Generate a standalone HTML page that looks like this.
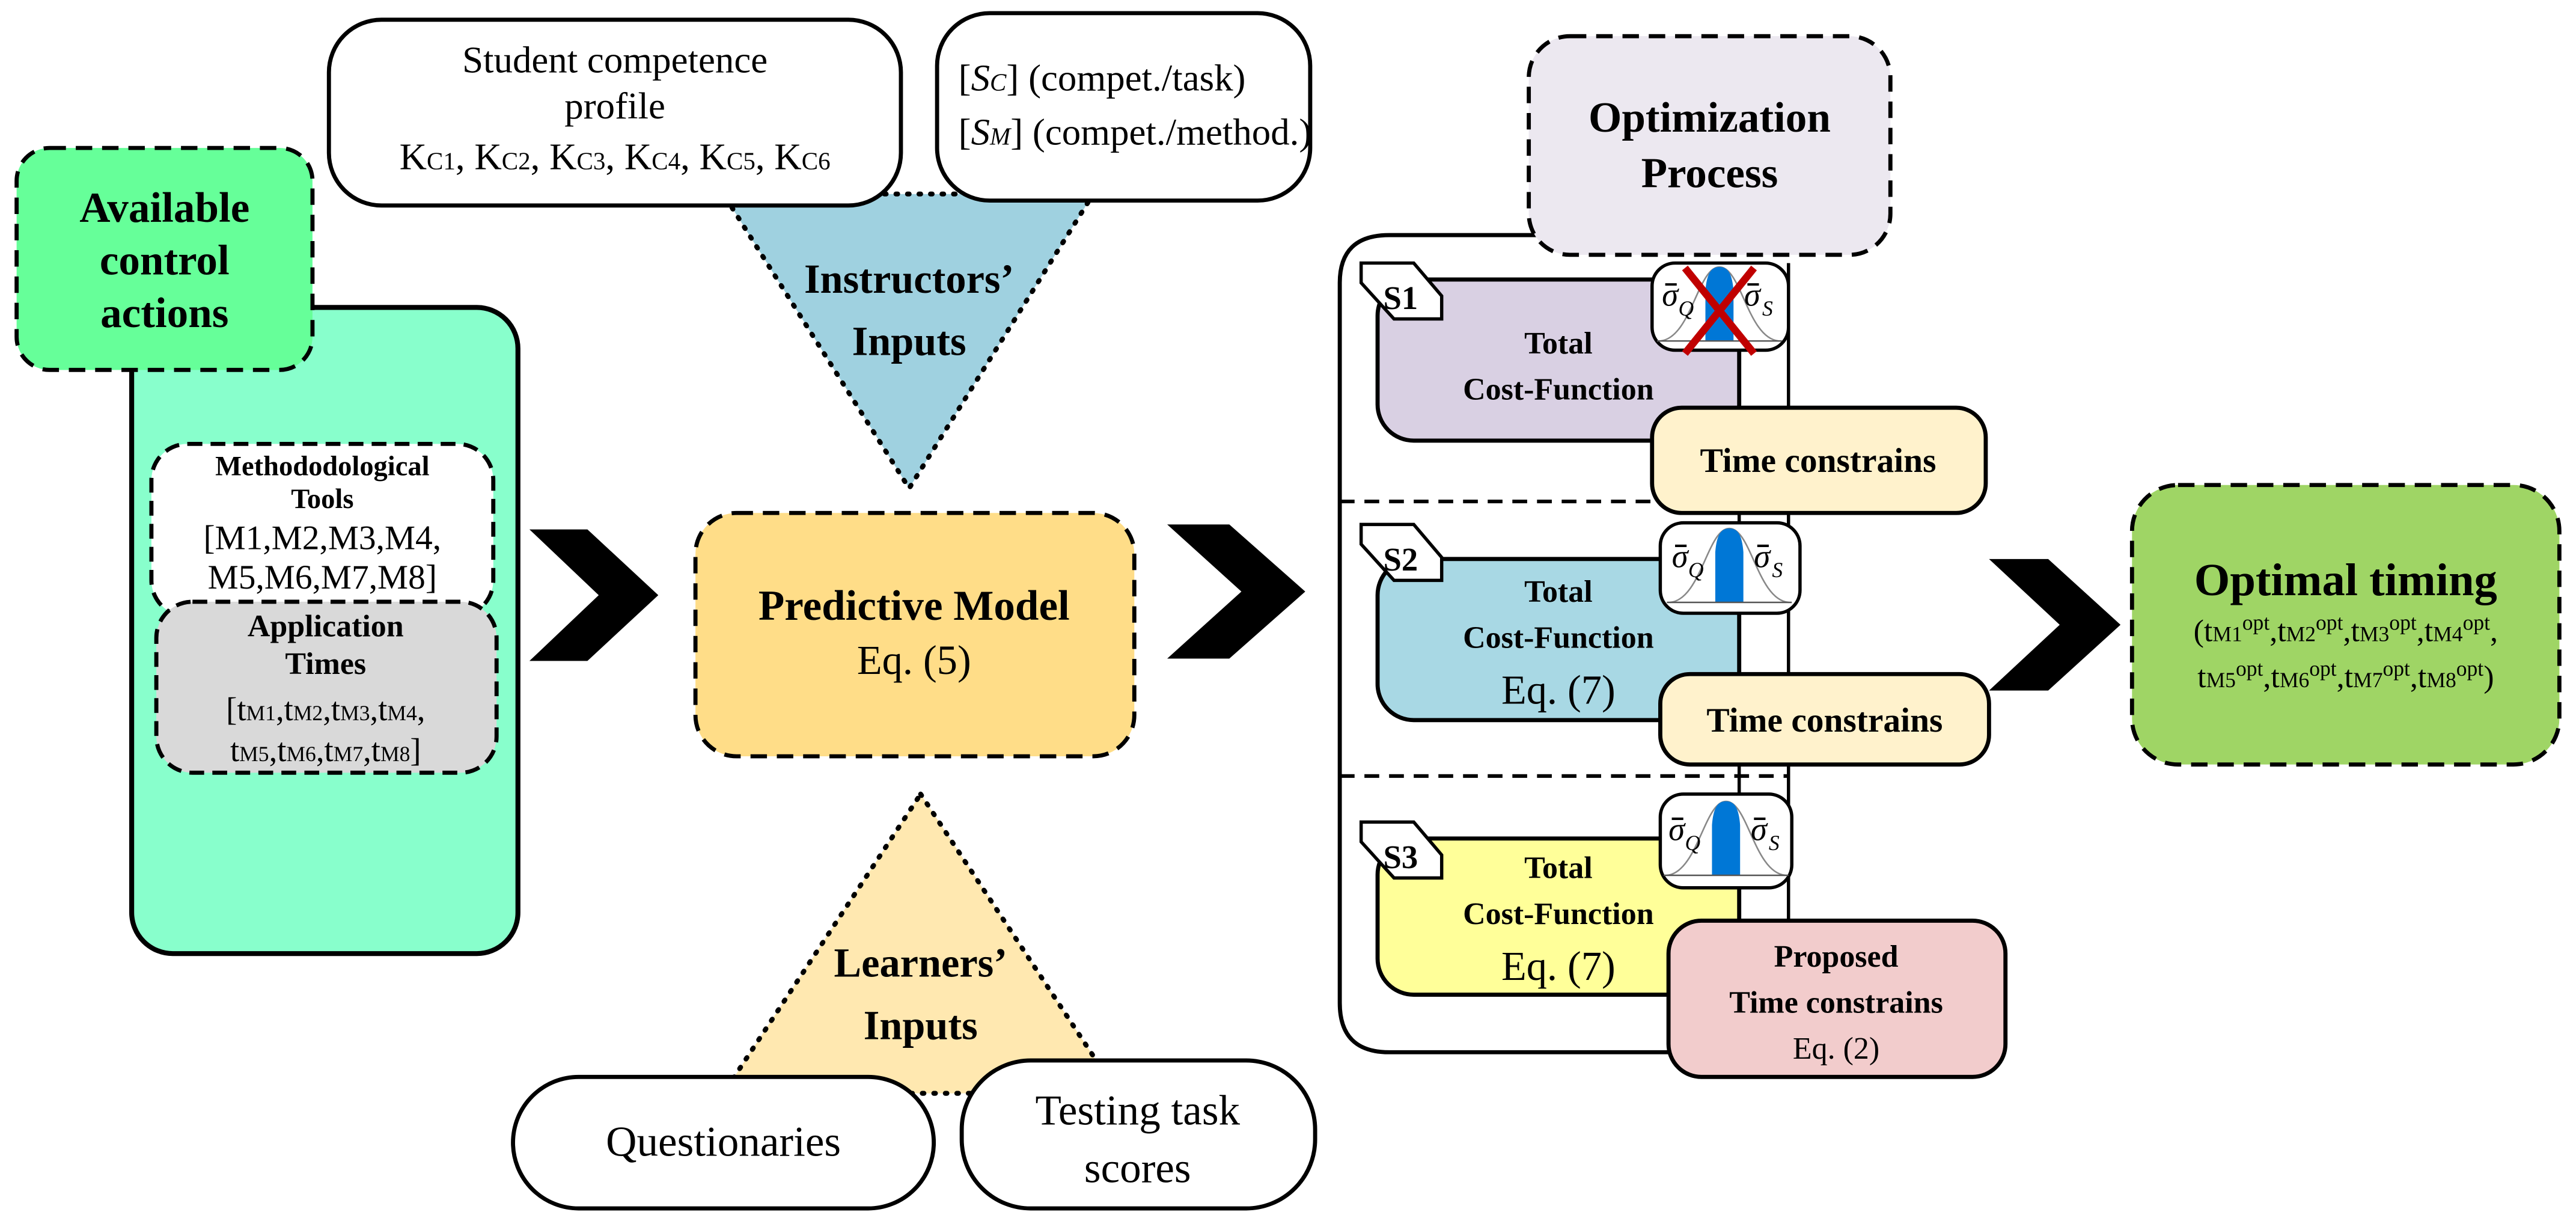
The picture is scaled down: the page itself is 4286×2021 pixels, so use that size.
<!DOCTYPE html>
<html><head><meta charset="utf-8"><style>
html,body{margin:0;padding:0;background:#fff}
svg{display:block}
text{font-family:"Liberation Serif",serif;fill:#000}
.b{font-weight:bold}
</style></head><body>
<svg width="4286" height="2021" viewBox="0 0 1567 739" xmlns="http://www.w3.org/2000/svg" font-family="Liberation Serif, serif">
<defs>
<g id="bell">
<path d="M-38,26 C-18,24 -14,-24 0,-24 C14,-24 18,24 38,26" fill="none" stroke="#888" stroke-width="1"/>
<path d="M-9,26 L-9,-8 C-8,-22 -4,-24 0,-24 C4,-24 8,-22 9,-8 L9,26 Z" fill="#0077d6"/>
<line x1="-40" y1="26" x2="40" y2="26" stroke="#555" stroke-width="1"/>
</g>
<g id="sig">
<line x1="-33" y1="-15" x2="-26" y2="-15" stroke="#000" stroke-width="1.5"/>
<text x="-35" y="-2" font-size="20" font-style="italic">σ</text>
<text x="-25" y="4" font-size="13" font-style="italic">Q</text>
<line x1="17" y1="-15" x2="24" y2="-15" stroke="#000" stroke-width="1.5"/>
<text x="15" y="-2" font-size="20" font-style="italic">σ</text>
<text x="26" y="4" font-size="13" font-style="italic">S</text>
</g>
<g id="chev"><path d="M0,0 L36,0 L80,40 L36,80 L0,80 L43,40 Z" fill="#000"/></g>
</defs>

<rect x="80" y="187" width="235" height="393" rx="25" fill="#88ffcc" stroke="#000" stroke-width="3"/>
<rect x="10" y="90" width="180" height="135" rx="20" fill="#66ff99" stroke="#000" stroke-width="2.5" stroke-dasharray="10,6"/>
<text class="b" x="100" y="135" font-size="26" text-anchor="middle">Available</text>
<text class="b" x="100" y="167" font-size="26" text-anchor="middle">control</text>
<text class="b" x="100" y="199" font-size="26" text-anchor="middle">actions</text>

<rect x="92" y="270" width="208" height="105" rx="22" fill="#fff" stroke="#000" stroke-width="2.5" stroke-dasharray="9,5"/>
<text class="b" x="196" y="289" font-size="17" text-anchor="middle">Methododological</text>
<text class="b" x="196" y="309" font-size="17" text-anchor="middle">Tools</text>
<text x="196" y="334" font-size="21" text-anchor="middle">[M1,M2,M3,M4,</text>
<text x="196" y="358" font-size="21" text-anchor="middle">M5,M6,M7,M8]</text>

<rect x="95" y="366" width="207" height="104" rx="22" fill="#d9d9d9" stroke="#000" stroke-width="2.5" stroke-dasharray="9,5"/>
<text class="b" x="198" y="387" font-size="19" text-anchor="middle">Application</text>
<text class="b" x="198" y="410" font-size="19" text-anchor="middle">Times</text>
<text x="198" y="438" font-size="20" text-anchor="middle">[t<tspan font-size="13">M1</tspan>,t<tspan font-size="13">M2</tspan>,t<tspan font-size="13">M3</tspan>,t<tspan font-size="13">M4</tspan>,</text>
<text x="198" y="463" font-size="20" text-anchor="middle">t<tspan font-size="13">M5</tspan>,t<tspan font-size="13">M6</tspan>,t<tspan font-size="13">M7</tspan>,t<tspan font-size="13">M8</tspan>]</text>

<use href="#chev" transform="translate(322,322) scale(0.98,1)"/>
<use href="#chev" transform="translate(710,319) scale(1.05,1.02)"/>
<use href="#chev" transform="translate(1210,340) scale(1,1)"/>

<path d="M440,118 L665,118 L553,297 Z" fill="#9fd1e0" stroke="#000" stroke-width="3" stroke-dasharray="1,6" stroke-linecap="round"/>
<text class="b" x="553" y="178" font-size="25" text-anchor="middle">Instructors’</text>
<text class="b" x="553" y="216" font-size="25" text-anchor="middle">Inputs</text>

<rect x="200" y="12" width="348" height="113" rx="32" fill="#fff" stroke="#000" stroke-width="2.5"/>
<text x="374" y="44" font-size="23" text-anchor="middle">Student competence</text>
<text x="374" y="72" font-size="23" text-anchor="middle">profile</text>
<text x="374" y="103" font-size="23" text-anchor="middle">K<tspan font-size="15">C1</tspan>, K<tspan font-size="15">C2</tspan>, K<tspan font-size="15">C3</tspan>, K<tspan font-size="15">C4</tspan>, K<tspan font-size="15">C5</tspan>, K<tspan font-size="15">C6</tspan></text>
<rect x="570" y="8" width="227" height="114" rx="32" fill="#fff" stroke="#000" stroke-width="2.5"/>
<text x="583" y="55" font-size="23">[<tspan font-style="italic">S<tspan font-size="15">C</tspan></tspan>] (compet./task)</text>
<text x="583" y="88" font-size="23">[<tspan font-style="italic">S<tspan font-size="15">M</tspan></tspan>] (compet./method.)</text>

<rect x="423" y="312" width="267" height="148" rx="25" fill="#ffdd88" stroke="#000" stroke-width="2.5" stroke-dasharray="10,6"/>
<text class="b" x="556" y="377" font-size="26" text-anchor="middle">Predictive Model</text>
<text x="556" y="410" font-size="25" text-anchor="middle">Eq. (5)</text>

<path d="M560,483 L680,665 L440,665 Z" fill="#ffe8b0" stroke="#000" stroke-width="3" stroke-dasharray="1,6" stroke-linecap="round"/>
<text class="b" x="560" y="594" font-size="25" text-anchor="middle">Learners’</text>
<text class="b" x="560" y="632" font-size="25" text-anchor="middle">Inputs</text>
<rect x="312" y="655" width="256" height="80" rx="40" fill="#fff" stroke="#000" stroke-width="2.5"/>
<text x="440" y="703" font-size="26" text-anchor="middle">Questionaries</text>
<rect x="585" y="645" width="215" height="90" rx="42" fill="#fff" stroke="#000" stroke-width="2.5"/>
<text x="692" y="684" font-size="26" text-anchor="middle">Testing task</text>
<text x="692" y="719" font-size="26" text-anchor="middle">scores</text>

<path d="M1015,640 L845,640 Q815,640 815,610 L815,172 Q815,143 845,143 L935,143" fill="none" stroke="#000" stroke-width="2.5"/>
<line x1="815" y1="305" x2="1088" y2="305" stroke="#000" stroke-width="2.2" stroke-dasharray="9,6"/>
<line x1="815" y1="472" x2="1088" y2="472" stroke="#000" stroke-width="2.2" stroke-dasharray="9,6"/>
<line x1="1058" y1="170" x2="1058" y2="610" stroke="#000" stroke-width="2"/>
<line x1="1088" y1="160" x2="1088" y2="610" stroke="#000" stroke-width="2"/>
<rect x="930" y="22" width="220" height="133" rx="25" fill="#ece8f0" stroke="#000" stroke-width="2.5" stroke-dasharray="10,6"/>
<text class="b" x="1040" y="80" font-size="26" text-anchor="middle">Optimization</text>
<text class="b" x="1040" y="114" font-size="26" text-anchor="middle">Process</text>

<rect x="838" y="170" width="220" height="98" rx="22" fill="#d9d0e3" stroke="#000" stroke-width="2.5"/>
<path d="M828,160 L860,160 L877,180 L877,194 L848,194 L828,172 Z" fill="#fff" stroke="#000" stroke-width="2"/>
<text class="b" x="852" y="188" font-size="20" text-anchor="middle">S1</text>
<text class="b" x="948" y="215" font-size="19" text-anchor="middle">Total</text>
<text class="b" x="948" y="243" font-size="19" text-anchor="middle">Cost-Function</text>
<rect x="1005" y="160" width="83" height="53" rx="14" fill="#fff" stroke="#000" stroke-width="2"/>
<use href="#bell" transform="translate(1046,184) scale(0.95,0.9)"/>
<use href="#sig" transform="translate(1046,188)"/>
<path d="M1025,163 L1067,215 M1067,163 L1025,215" stroke="#c00000" stroke-width="4.5"/>
<rect x="1005" y="248" width="203" height="64" rx="18" fill="#fff2cc" stroke="#000" stroke-width="2.5"/>
<text class="b" x="1106" y="287" font-size="21" text-anchor="middle">Time constrains</text>

<rect x="838" y="340" width="220" height="98" rx="22" fill="#a8d8e4" stroke="#000" stroke-width="2.5"/>
<path d="M828,319 L860,319 L877,339 L877,353 L848,353 L828,331 Z" fill="#fff" stroke="#000" stroke-width="2"/>
<text class="b" x="852" y="347" font-size="20" text-anchor="middle">S2</text>
<text class="b" x="948" y="366" font-size="19" text-anchor="middle">Total</text>
<text class="b" x="948" y="394" font-size="19" text-anchor="middle">Cost-Function</text>
<text x="948" y="428" font-size="25" text-anchor="middle">Eq. (7)</text>
<rect x="1010" y="318" width="85" height="55" rx="14" fill="#fff" stroke="#000" stroke-width="2"/>
<use href="#bell" transform="translate(1052,343) scale(0.95,0.9)"/>
<use href="#sig" transform="translate(1052,347)"/>
<rect x="1010" y="410" width="200" height="55" rx="18" fill="#fff2cc" stroke="#000" stroke-width="2.5"/>
<text class="b" x="1110" y="445" font-size="21" text-anchor="middle">Time constrains</text>

<rect x="838" y="510" width="220" height="95" rx="22" fill="#ffff99" stroke="#000" stroke-width="2.5"/>
<path d="M828,500 L860,500 L877,520 L877,534 L848,534 L828,512 Z" fill="#fff" stroke="#000" stroke-width="2"/>
<text class="b" x="852" y="528" font-size="20" text-anchor="middle">S3</text>
<text class="b" x="948" y="534" font-size="19" text-anchor="middle">Total</text>
<text class="b" x="948" y="562" font-size="19" text-anchor="middle">Cost-Function</text>
<text x="948" y="596" font-size="25" text-anchor="middle">Eq. (7)</text>
<rect x="1010" y="483" width="80" height="57" rx="14" fill="#fff" stroke="#000" stroke-width="2"/>
<use href="#bell" transform="translate(1050,509) scale(0.95,0.9)"/>
<use href="#sig" transform="translate(1050,513)"/>
<rect x="1015" y="560" width="205" height="95" rx="20" fill="#f2cccc" stroke="#000" stroke-width="2.5"/>
<text class="b" x="1117" y="588" font-size="19" text-anchor="middle">Proposed</text>
<text class="b" x="1117" y="616" font-size="19" text-anchor="middle">Time constrains</text>
<text x="1117" y="644" font-size="19" text-anchor="middle">Eq. (2)</text>

<rect x="1297" y="295" width="260" height="170" rx="28" fill="#9fd565" stroke="#000" stroke-width="2.5" stroke-dasharray="10,6"/>
<text class="b" x="1427" y="362" font-size="28" text-anchor="middle">Optimal timing</text>
<text x="1427" y="390" font-size="19" text-anchor="middle">(t<tspan font-size="13">M1</tspan><tspan font-size="13" dy="-7">opt</tspan><tspan dy="7">,t</tspan><tspan font-size="13">M2</tspan><tspan font-size="13" dy="-7">opt</tspan><tspan dy="7">,t</tspan><tspan font-size="13">M3</tspan><tspan font-size="13" dy="-7">opt</tspan><tspan dy="7">,t</tspan><tspan font-size="13">M4</tspan><tspan font-size="13" dy="-7">opt</tspan><tspan dy="7">,</tspan></text>
<text x="1427" y="418" font-size="19" text-anchor="middle">t<tspan font-size="13">M5</tspan><tspan font-size="13" dy="-7">opt</tspan><tspan dy="7">,t</tspan><tspan font-size="13">M6</tspan><tspan font-size="13" dy="-7">opt</tspan><tspan dy="7">,t</tspan><tspan font-size="13">M7</tspan><tspan font-size="13" dy="-7">opt</tspan><tspan dy="7">,t</tspan><tspan font-size="13">M8</tspan><tspan font-size="13" dy="-7">opt</tspan><tspan dy="7">)</tspan></text>
</svg>
</body></html>
